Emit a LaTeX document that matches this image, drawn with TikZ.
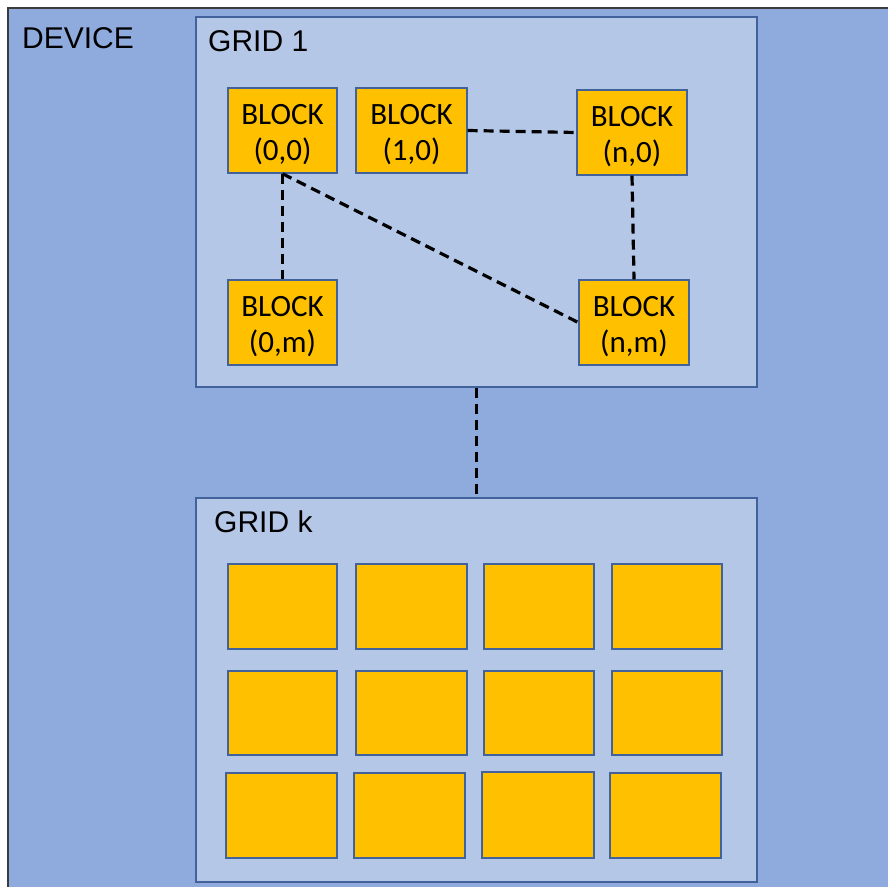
\documentclass[tikz,border=0pt]{standalone}
\usepackage{fontspec}
\setmainfont{Liberation Sans}
\newfontfamily\blkfont{Carlito}
\definecolor{devfill}{HTML}{8FAADC}
\definecolor{gridfill}{HTML}{B4C7E7}
\definecolor{blkfill}{HTML}{FFC000}
\definecolor{bordblue}{RGB}{66,98,156}
\definecolor{devbord}{RGB}{60,60,60}
\tikzset{
  gridbox/.style={draw=bordblue, line width=1.6pt, fill=gridfill, anchor=north west, inner sep=0pt},
  blk/.style={draw=bordblue, line width=1.4pt, fill=blkfill, inner sep=0pt},
  blktxt/.style={inner sep=0pt, align=center, yshift=-4pt,
    font=\blkfont\fontsize{31}{36}\selectfont},
  bigtxt/.style={font=\fontsize{30}{32}\selectfont, anchor=base west, inner sep=0pt},
  conn/.style={line width=3.2pt, dash pattern=on 10pt off 6pt, black}
}
\begin{document}
\begin{tikzpicture}[x=1pt,y=-1pt]
\useasboundingbox (0,0) rectangle (888,886);
\clip (0,0) rectangle (888,886);
\fill[white] (0,0) rectangle (888,886);
\draw[fill=devfill, draw=devbord, line width=1.2pt] (8,8) rectangle (950,950);
\node[bigtxt] (devlbl) at (22,48) {DEVICE};
% grids
\node[gridbox, minimum width=561pt, minimum height=370pt] (grid1) at (195,16) {};
\node[gridbox, minimum width=561pt, minimum height=384pt] (gridk) at (195,497) {};
\node[bigtxt] (g1lbl) at (208,51) {GRID 1};
\node[bigtxt] (gklbl) at (214,532) {GRID k};
% blocks in grid 1
\node[blk, minimum width=109pt, minimum height=85pt] (b00) at (282.5,130.5) {};
\node[blk, minimum width=111pt, minimum height=85pt] (b10) at (411.5,130.5) {};
\node[blk, minimum width=110pt, minimum height=85pt] (bn0) at (632,132.5) {};
\node[blk, minimum width=109pt, minimum height=85pt] (b0m) at (282.5,322.5) {};
\node[blk, minimum width=110pt, minimum height=85pt] (bnm) at (634,322.5) {};
\node[blktxt] (t00) at (b00.center) {BLOCK\\(0,0)};
\node[blktxt] (t10) at (b10.center) {BLOCK\\(1,0)};
\node[blktxt] (tn0) at (bn0.center) {BLOCK\\(n,0)};
\node[blktxt] (t0m) at (b0m.center) {BLOCK\\(0,m)};
\node[blktxt] (tnm) at (bnm.center) {BLOCK\\(n,m)};
% connectors
\draw[conn] (b10.east) -- (bn0.west);
\draw[conn] (b00.south) -- (b0m.north);
\draw[conn] (b00.south) -- (bnm.west);
\draw[conn] (bn0.south) -- (bnm.north);
\draw[conn] (grid1.south) -- (gridk.north);
% blocks in grid k
\node[blk, minimum width=109pt, minimum height=85pt] (k11) at (282.5,606.5) {};
\node[blk, minimum width=111pt, minimum height=85pt] (k12) at (411.5,606.5) {};
\node[blk, minimum width=110pt, minimum height=85pt] (k13) at (539,606.5) {};
\node[blk, minimum width=110pt, minimum height=85pt] (k14) at (667,606.5) {};
\node[blk, minimum width=109pt, minimum height=84pt] (k21) at (282.5,713) {};
\node[blk, minimum width=111pt, minimum height=84pt] (k22) at (411.5,713) {};
\node[blk, minimum width=110pt, minimum height=84pt] (k23) at (539,713) {};
\node[blk, minimum width=110pt, minimum height=84pt] (k24) at (667,713) {};
\node[blk, minimum width=111pt, minimum height=85pt] (k31) at (281.5,815.5) {};
\node[blk, minimum width=111pt, minimum height=85pt] (k32) at (409.5,815.5) {};
\node[blk, minimum width=112pt, minimum height=86pt] (k33) at (538,815) {};
\node[blk, minimum width=111pt, minimum height=85pt] (k34) at (665.5,815.5) {};
\end{tikzpicture}
\end{document}
